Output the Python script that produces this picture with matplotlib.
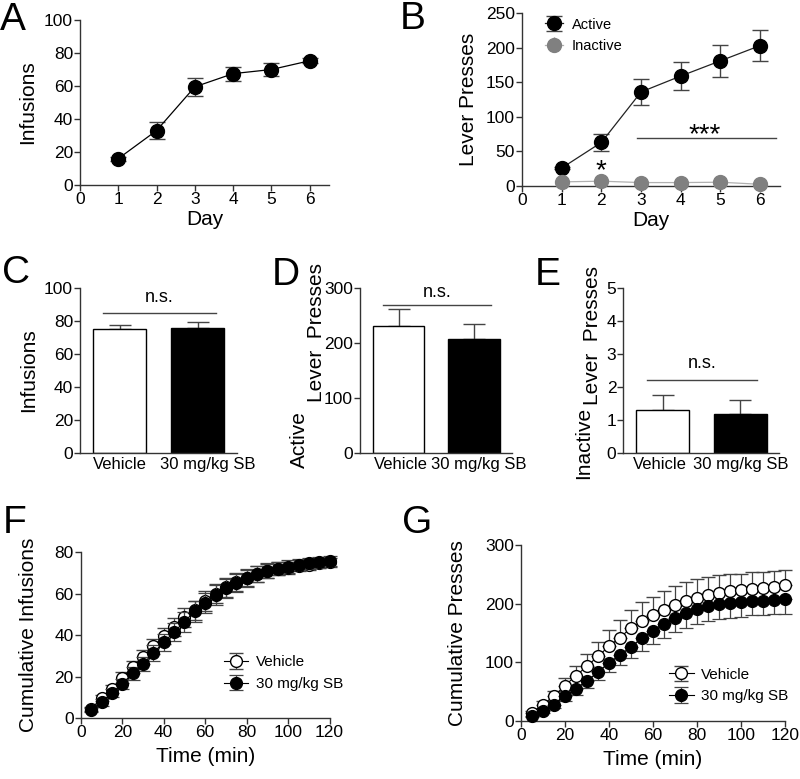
import matplotlib.pyplot as plt
import numpy as np

plt.rcParams['font.family'] = ['Liberation Sans', 'DejaVu Sans']
plt.rcParams['axes.linewidth'] = 1.0
plt.rcParams['axes.edgecolor'] = '#333333'
plt.rcParams['xtick.color'] = '#333333'
plt.rcParams['ytick.color'] = '#333333'
plt.rcParams['xtick.labelcolor'] = 'black'
plt.rcParams['ytick.labelcolor'] = 'black'

# panel A
days = [1, 2, 3, 4, 5, 6]
inf_mean = [16, 33, 59.5, 67.5, 70, 75.3]
inf_sem = [1.2, 5.3, 5.3, 4.3, 4.0, 1.5]

# panel B
active_mean = [26, 63, 136, 159, 181, 203]
active_sem = [2, 12, 19, 20, 23, 22]
inactive_mean = [6, 7, 5, 5, 5.5, 2.5]
inactive_sem = [1, 1, 1, 1, 1, 0.5]

# panels C-E
groups = ['Vehicle', '30 mg/kg SB']
c_mean = [75, 76]
c_sem = [2.5, 3.5]
d_mean = [231, 207]
d_sem = [31, 27]
e_mean = [1.3, 1.18]
e_sem = [0.45, 0.43]

# panels F and G
t = [5, 10, 15, 20, 25, 30, 35, 40, 45, 50, 55, 60, 65, 70, 75, 80, 85, 90, 95, 100, 105, 110, 115, 120]
f_veh = [4.5, 9.5, 14, 19.5, 24.5, 29.5, 34.5, 39.5, 44, 48.5, 52, 56.5, 60, 63, 65.5, 67.5, 69.5, 71, 72, 72.5, 73.5, 74, 74.5, 75]
f_veh_sem = [1.0, 1.5, 2.0, 2.5, 3.0, 3.5, 3.8, 4.0, 4.3, 4.5, 4.6, 4.7, 4.6, 4.5, 4.3, 4.0, 3.7, 3.4, 3.1, 2.9, 2.7, 2.5, 2.4, 2.3]
f_sb = [4, 7.5, 12, 16.5, 21.5, 26, 31.5, 36.5, 41.5, 46.5, 51.5, 55.5, 59.5, 62.5, 65, 67.5, 69.5, 71, 72, 73, 74, 74.5, 75, 75.5]
f_sb_sem = [1.0, 1.5, 2.0, 2.5, 3.0, 3.5, 3.8, 4.2, 4.5, 4.8, 5.0, 5.0, 4.8, 4.6, 4.4, 4.1, 3.8, 3.5, 3.2, 3.0, 2.8, 2.6, 2.5, 2.4]
g_veh = [14, 28, 42, 60, 77, 93, 110, 127, 142, 158, 170, 180, 189, 198, 204, 210, 214, 218, 221, 223, 225, 227, 229, 231]
g_veh_sem = [3, 6, 9, 13, 17, 21, 25, 28, 30, 31, 32, 32, 32, 32, 32, 32, 31, 30, 29, 28, 28, 27, 27, 27]
g_sb = [9, 17, 28, 42, 55, 68, 83, 99, 112, 126, 141, 154, 166, 176, 184, 191, 196, 199, 201, 202, 204, 205, 206, 207]
g_sb_sem = [2, 4, 6, 8, 10, 11, 13, 15, 17, 19, 21, 23, 24, 25, 25, 25, 25, 25, 25, 24, 24, 24, 24, 24]

fig = plt.figure(figsize=(8, 7.79), dpi=100)

def style(ax):
    ax.spines['top'].set_visible(False)
    ax.spines['right'].set_visible(False)
    ax.tick_params(direction='out', length=4, width=1, labelsize=12.5, pad=1)

def letter(x, y, s):
    fig.text(x / 800, 1 - y / 779, s, fontsize=28, va='baseline', ha='left')

def vlabel(x, y, s):
    # rotated label placed by pixel centre
    fig.text(x / 800, 1 - y / 779, s, fontsize=15, rotation=90, ha='center', va='center')

# A
ax = fig.add_axes([0.1, 0.7625, 0.311, 0.2118])
ax.errorbar(days, inf_mean, yerr=inf_sem, fmt='o-', color='black', ecolor='#444444',
            ms=10, lw=0.9, elinewidth=1, capsize=6, capthick=1, clip_on=False, zorder=3)
ax.set_xlim(0, 6.5)
ax.set_ylim(0, 100)
ax.set_xticks(range(7))
ax.set_yticks(range(0, 101, 20))
ax.set_xlabel('Day', fontsize=15, labelpad=2)
ax.set_ylabel('Infusions', fontsize=15, labelpad=5)
style(ax)
letter(0, 30, 'A')

# B
ax = fig.add_axes([0.6525, 0.7612, 0.3225, 0.222])
ax.errorbar(days, active_mean, yerr=active_sem, fmt='o-', color='#222222', mfc='black',
            mec='black', ecolor='#444444', ms=10, lw=0.9, elinewidth=1, capsize=6, capthick=1,
            clip_on=False, zorder=3, label='Active')
ax.errorbar(days, inactive_mean, yerr=inactive_sem, fmt='o-', color='#b0b0b0', mec='#808080',
            mfc='#808080', ecolor='#808080', ms=10, lw=0.9, elinewidth=1, capsize=0,
            clip_on=False, zorder=4, label='Inactive')
ax.plot([2.9, 6.4], [70, 70], color='#444444', lw=1)
ax.text(4.6, 63, '***', fontsize=20, ha='center', va='baseline')
ax.text(2, 11, '*', fontsize=20, ha='center', va='baseline')
ax.set_xlim(0, 6.5)
ax.set_ylim(0, 250)
ax.set_xticks(range(7))
ax.set_yticks(range(0, 251, 50))
ax.set_xlabel('Day', fontsize=15, labelpad=2)
ax.set_ylabel('Lever Presses', fontsize=15, labelpad=6)
ax.legend(loc='upper left', bbox_to_anchor=(0.04, 1.05), frameon=False, fontsize=10.5,
          handlelength=1.2, handletextpad=0.6, labelspacing=0.5)
style(ax)
letter(400, 29, 'B')

# C, D, E bar panels
def bars(rect, means, sems, ylim, yticks, sig_y, txt_y, line_x, lab_x):
    ax = fig.add_axes(rect)
    x = np.arange(len(groups))
    ax.bar(x, means, width=0.68, color=['white', 'black'], edgecolor='black', lw=1, zorder=2)
    ax.errorbar(x, means, yerr=[np.zeros(len(sems)), sems], fmt='none', ecolor='#444444',
                elinewidth=1, capsize=8, capthick=1, zorder=1)
    ax.plot(line_x, [sig_y, sig_y], color='#444444', lw=1)
    ax.text(np.mean(line_x), txt_y, 'n.s.', fontsize=13, ha='center', va='center')
    ax.set_xlim(-0.51, 1.5)
    ax.set_ylim(*ylim)
    ax.set_yticks(yticks)
    ax.set_xticks(lab_x)
    ax.set_xticklabels(groups)
    style(ax)
    ax.tick_params(axis='x', length=0, pad=3, labelsize=12)
    return ax

ax = bars([0.1, 0.4185, 0.196, 0.2118], c_mean, c_sem, (0, 100), range(0, 101, 20),
          85, 94, [-0.22, 1.23], [0, 1.13])
ax.set_ylabel('Infusions', fontsize=15, labelpad=4)
letter(2, 283, 'C')
bars([0.45, 0.4185, 0.19, 0.2118], d_mean, d_sem, (0, 300), range(0, 301, 100),
     269, 292, [-0.2, 1.22], [0.03, 1.06])
vlabel(299, 440, 'Active')
vlabel(316, 333, 'Lever  Presses')
letter(272, 285, 'D')
bars([0.779, 0.4185, 0.195, 0.2118], e_mean, e_sem, (0, 5), range(0, 6),
     2.2, 2.7, [-0.2, 1.22], [-0.04, 1.0])
vlabel(584, 443, 'Inactive')
vlabel(592, 336, 'Lever  Presses')
letter(535, 285, 'E')

# F, G cumulative panels
def cumul(rect, veh, veh_sem, sb, sb_sem, ylim, yticks, ylabel, one_sided, leg_anchor):
    ax = fig.add_axes(rect)
    if one_sided:
        veh_err = [np.zeros(len(veh_sem)), veh_sem]
        sb_err = [sb_sem, np.zeros(len(sb_sem))]
    else:
        veh_err = veh_sem
        sb_err = sb_sem
    ax.errorbar(t, veh, yerr=veh_err, fmt='o-', color='black', mfc='white', mec='black',
                mew=1, ecolor='#444444', ms=8.5, lw=0.8, elinewidth=0.9, capsize=5, capthick=0.9,
                clip_on=False, zorder=3, label='Vehicle')
    ax.errorbar(t, sb, yerr=sb_err, fmt='o-', color='black', mfc='black', mec='black',
                ecolor='#444444', ms=8.5, lw=0.8, elinewidth=0.9, capsize=5, capthick=0.9,
                clip_on=False, zorder=4, label='30 mg/kg SB')
    ax.set_xlim(0, 120)
    ax.set_ylim(*ylim)
    ax.set_xticks(range(0, 121, 20))
    ax.set_yticks(yticks)
    ax.set_xlabel('Time (min)', fontsize=15, labelpad=5)
    ax.set_ylabel(ylabel, fontsize=15, labelpad=12)
    ax.legend(loc='upper left', bbox_to_anchor=leg_anchor, frameon=False, fontsize=11,
              handlelength=1.6, handletextpad=0.5, labelspacing=0.5)
    style(ax)
    return ax

cumul([0.101, 0.0783, 0.311, 0.213], f_veh, f_veh_sem, f_sb, f_sb_sem, (0, 80),
      range(0, 81, 20), 'Cumulative Infusions', False, (0.52, 0.46))
letter(3, 533, 'F')
ax = cumul([0.651, 0.0745, 0.33, 0.226], g_veh, g_veh_sem, g_sb, g_sb_sem, (0, 300),
           range(0, 301, 100), 'Cumulative Presses', True, (0.51, 0.38))
ax.yaxis.labelpad = 13
letter(402, 533, 'G')

fig.savefig('out.png', dpi=100)
